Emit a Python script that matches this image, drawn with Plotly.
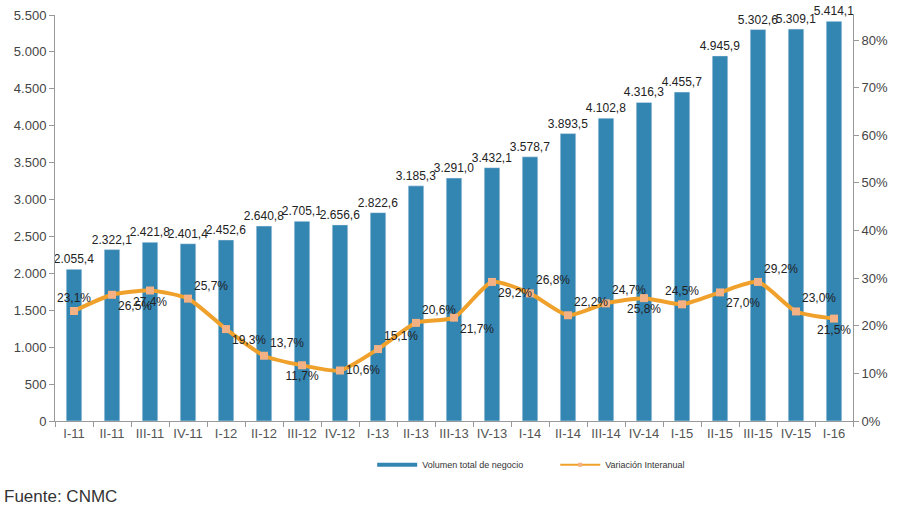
import plotly.graph_objects as go

categories = ["I-11", "II-11", "III-11", "IV-11", "I-12", "II-12", "III-12", "IV-12",
              "I-13", "II-13", "III-13", "IV-13", "I-14", "II-14", "III-14", "IV-14",
              "I-15", "II-15", "III-15", "IV-15", "I-16"]
volumen = [2055.4, 2322.1, 2421.8, 2401.4, 2452.6, 2640.8, 2705.1, 2656.6,
           2822.6, 3185.3, 3291.0, 3432.1, 3578.7, 3893.5, 4102.8, 4316.3,
           4455.7, 4945.9, 5302.6, 5309.1, 5414.1]
variacion = [0.231, 0.265, 0.274, 0.257, 0.193, 0.137, 0.117, 0.106,
             0.151, 0.206, 0.217, 0.292, 0.268, 0.222, 0.247, 0.258,
             0.245, 0.270, 0.292, 0.230, 0.215]

line_label_pos = ["top center", "bottom right", "bottom center", "top right", "bottom right",
                  "top right", "bottom center", "middle right", "top right", "top right",
                  "bottom right", "bottom right", "top right", "top right", "top right",
                  "bottom center", "top center", "bottom right", "top right", "top right",
                  "bottom center"]

BLUE = "#3385B2"
ORANGE = "#EFA12B"
FONT = "Arial, Liberation Sans, sans-serif"

fig = go.Figure()
fig.add_trace(go.Bar(
    x=categories, y=volumen, name="Volumen total de negocio",
    marker_color=BLUE, width=0.41, showlegend=False,
    texttemplate="%{y:,.1f}", textposition="outside", cliponaxis=False,
    constraintext="none",
    textfont=dict(size=12, color="#222222", family=FONT),
))
fig.add_trace(go.Scatter(
    x=categories, y=variacion, name="Variación Interanual", yaxis="y2",
    mode="lines+markers+text", showlegend=False,
    line=dict(color=ORANGE, width=4, shape="spline", smoothing=0.6),
    marker=dict(symbol="square", size=8, color="#F4B183"),
    texttemplate="%{y:.1%}", textposition=line_label_pos,
    textfont=dict(size=12, color="#222222", family=FONT),
    cliponaxis=False,
))
# legend keys styled like the reference (line keys)
fig.add_trace(go.Scatter(
    x=[None], y=[None], name="Volumen total de negocio", mode="lines",
    line=dict(color=BLUE, width=4), showlegend=True,
))
fig.add_trace(go.Scatter(
    x=[None], y=[None], name="Variación Interanual", mode="lines+markers",
    line=dict(color=ORANGE, width=2), marker=dict(symbol="square", size=4, color="#F4B183"),
    showlegend=True,
))

fig.update_layout(
    width=899, height=512,
    margin=dict(l=55, r=46, t=15, b=91),
    paper_bgcolor="white", plot_bgcolor="white",
    separators=",.",
    font=dict(family=FONT, color="#444444", size=12),
    showlegend=True,
    legend=dict(orientation="h", x=0.3975, xanchor="left", y=-0.108, yanchor="middle",
                font=dict(size=9, color="#333333"), itemwidth=40, entrywidth=128,
                traceorder="normal"),
    xaxis=dict(
        range=[-0.5, 20.5], showline=True, linecolor="#999999", linewidth=1,
        ticks="outside", tickson="boundaries", ticklen=5, tickcolor="#999999",
        tickangle=0, automargin=False,
        tickfont=dict(size=13, color="#555555"), showgrid=False,
    ),
    yaxis=dict(
        range=[0, 5500], dtick=500, tickformat=",d", showline=True, linecolor="#999999",
        ticks="outside", ticklen=5, tickcolor="#999999", showgrid=False, zeroline=False,
        automargin=False, tickfont=dict(size=13, color="#444444"),
    ),
    yaxis2=dict(
        range=[0, 0.8525], dtick=0.1, tickformat=".0%", overlaying="y", side="right",
        showline=True, linecolor="#999999", ticks="outside", ticklen=5, tickcolor="#999999",
        showgrid=False, zeroline=False, automargin=False,
        tickfont=dict(size=13, color="#444444"),
    ),
    annotations=[dict(text="Fuente: CNMC", xref="paper", yref="paper", x=-0.066, y=-0.187,
                      xanchor="left", yanchor="middle", showarrow=False,
                      font=dict(size=17, color="#333333", family=FONT))],
)

fig.write_html("out.html", config={"displayModeBar": False},
               post_script="document.body.style.margin='0px';")
